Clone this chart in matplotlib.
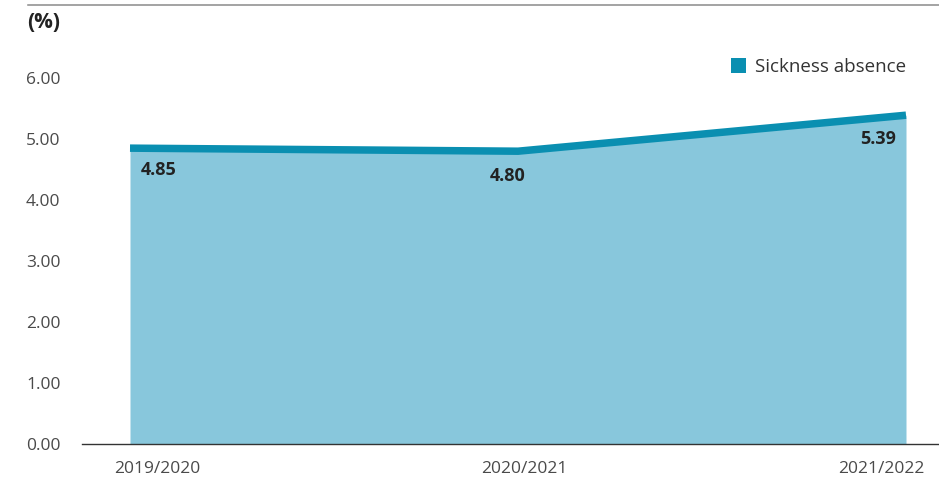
import matplotlib
matplotlib.use("Agg")
import matplotlib.pyplot as plt
import matplotlib.transforms as mtransforms
from matplotlib.patches import Patch
from matplotlib.lines import Line2D

plt.rcParams['font.family'] = ['Open Sans', 'DejaVu Sans']

categories = ["2019/2020", "2020/2021", "2021/2022"]
values = [4.85, 4.80, 5.39]
value_labels = ["4.85", "4.80", "5.39"]
y_ticks = [0, 1, 2, 3, 4, 5, 6]
series_name = "Sickness absence"

LINE = "#0A8FB1"
FILL = "#88C7DC"

W, H = 939, 479
fig = plt.figure(figsize=(W / 100, H / 100), dpi=100)
# axes: left at 82px, bottom at 444px, ~61 px per unit, top at 6.6
PPU = 61.0
ax_h = 6.6 * PPU
ax = fig.add_axes([82 / W, 35 / H, 1 - 82 / W, ax_h / H])

x = list(range(len(categories)))
ax.fill_between(x, 0, values, color=FILL, linewidth=0, zorder=1)
ax.plot(x, values, color=LINE, linewidth=5.4, solid_capstyle='butt',
        solid_joinstyle='miter', zorder=2)

ax.set_xlim(-48 / 388, 2 + 33 / 388)
ax.set_ylim(0, 6.6)
ax.set_yticks(y_ticks)
ax.set_yticklabels([f"{v:.2f}" for v in y_ticks])
ax.set_xticks(x)
ax.set_xticklabels(categories)

for s in ["top", "right", "left"]:
    ax.spines[s].set_visible(False)
ax.spines["bottom"].set_color("#333333")
ax.spines["bottom"].set_linewidth(1.0)
ax.tick_params(axis="both", length=0, labelsize=12.5, labelcolor="#4a4a4a")
ax.tick_params(axis="y", pad=15.5)
ax.tick_params(axis="x", pad=12)

# shift the outer x tick labels inward
shifts = [27, 6, -25]
for lbl, dx in zip(ax.get_xticklabels(), shifts):
    lbl.set_transform(lbl.get_transform() + mtransforms.ScaledTranslation(dx / 100, 0, fig.dpi_scale_trans))

# value labels
offsets = [(11, -22, 'left'), (-10, -25, 'center'), (-10, -24, 'right')]
for xi, v, t, (dx, dy, ha) in zip(x, values, value_labels, offsets):
    ax.annotate(t, (xi, v), xytext=(dx, dy), textcoords='offset pixels',
                ha=ha, va='center', fontsize=13, fontweight='bold', color='#222222', zorder=3)

# legend
handle = Patch(facecolor=LINE, edgecolor='none')
fig.legend([handle], [series_name], loc='center left',
           bbox_to_anchor=(731 / W, 1 - 67 / H), frameon=False,
           fontsize=13.5, handlelength=0.8, handleheight=0.8, handletextpad=0.5,
           borderpad=0, borderaxespad=0, labelcolor='#333333')

# top rule and unit label
fig.add_artist(Line2D([28 / W, 1], [1 - 5 / H, 1 - 5 / H], color="#8a8a8a", linewidth=1.1))
fig.text(27 / W, 1 - 22 / H, "(%)", fontsize=15, fontweight='bold', color='#222222',
         ha='left', va='center')

fig.savefig("out.png", dpi=100)
